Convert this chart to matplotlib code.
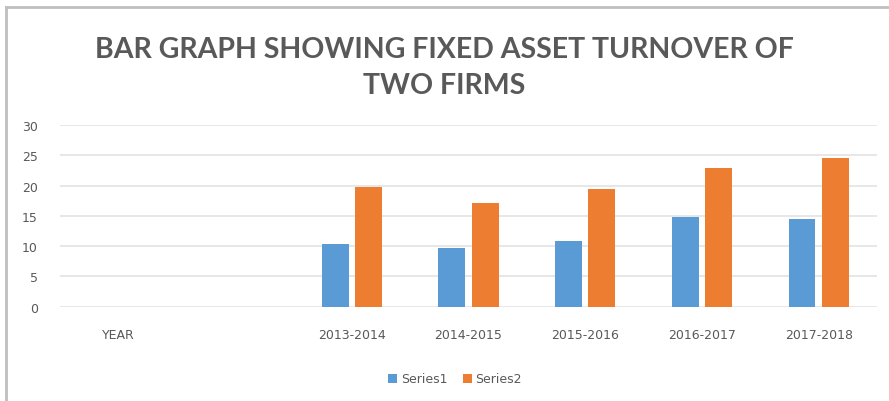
import numpy as np
import matplotlib
matplotlib.use("Agg")
import matplotlib.pyplot as plt
from matplotlib.lines import Line2D

categories = ["YEAR", "", "2013-2014", "2014-2015", "2015-2016", "2016-2017", "2017-2018"]
series1 = [np.nan, np.nan, 10.3, 9.7, 10.9, 14.8, 14.5]
series2 = [np.nan, np.nan, 19.8, 17.2, 19.4, 22.9, 24.6]
yticks = [0, 5, 10, 15, 20, 25, 30]

W, H = 889, 402
fig = plt.figure(figsize=(W / 100, H / 100), dpi=100)
ax = fig.add_axes([60 / W, 1 - 307.7 / H, (877 - 60) / W, (307.7 - 126) / H])

x = np.arange(len(categories))
bw = 0.23
ax.bar(x - 0.143, series1, bw, color="#5B9BD5", label="Series1", zorder=3)
ax.bar(x + 0.143, series2, bw, color="#ED7D31", label="Series2", zorder=3)

ax.set_xlim(-0.5, len(categories) - 0.5)
ax.set_ylim(0, 30)
ax.set_yticks(yticks)
ax.set_xticks(x)
ax.set_xticklabels(categories)
ax.grid(axis="y", color="#E3E3E3", linewidth=1.2, zorder=0)
for s in ax.spines.values():
    s.set_visible(False)
ax.tick_params(length=0, colors="#595959", labelsize=9)
ax.tick_params(axis="x", pad=15)
ax.tick_params(axis="y", pad=16)

fig.text(0.5, 1 - 68 / H, "BAR GRAPH SHOWING FIXED ASSET TURNOVER OF\nTWO FIRMS",
         ha="center", va="center", fontsize=20.5, fontweight="bold", color="#595959",
         family="Lato", linespacing=1.52)

fig.legend(loc="center", bbox_to_anchor=(455 / W, 1 - 380 / H), ncol=2, frameon=False,
           fontsize=9, labelcolor="#595959", handlelength=0.75, handleheight=0.75,
           handletextpad=0.3, columnspacing=1.2)

fig.add_artist(Line2D([6 / W, 1], [1 - 8 / H, 1 - 8 / H], color="#BFBFBF", linewidth=2))
fig.add_artist(Line2D([6 / W, 6 / W], [0, 1 - 8 / H], color="#BFBFBF", linewidth=2))

fig.savefig("out.png", dpi=100)
